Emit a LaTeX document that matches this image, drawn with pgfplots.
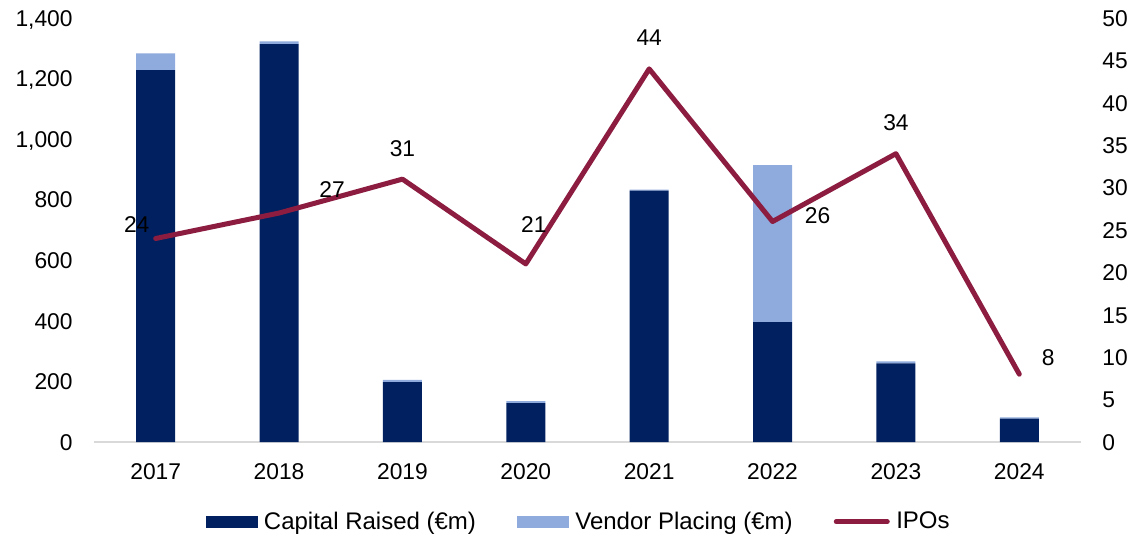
\documentclass[border=0pt]{standalone}
\usepackage{pgfplots}
\pgfplotsset{compat=1.18}
\usepackage{fontspec}
\setmainfont{Liberation Sans}
\definecolor{navy}{HTML}{002060}
\definecolor{lblue}{HTML}{8FAADC}
\definecolor{maroon}{HTML}{8C1D40}
\definecolor{axgray}{HTML}{D9D9D9}
\begin{document}
\fontsize{11.4pt}{13pt}\selectfont
\begin{tikzpicture}
\useasboundingbox (-47pt,-48pt) rectangle (519pt,221pt);
\pgfplotsset{
  base/.style={
    scale only axis, width=493.5pt, height=212pt,
    at={(0,0)}, anchor=south west,
    xmin=-0.5, xmax=7.5,
    font=\fontsize{11.4pt}{13pt}\selectfont,
    /pgf/number format/assume math mode=true,
    /pgf/number format/1000 sep={,},
    major tick length=0pt,
    tick style={draw=none},
  }
}
\begin{axis}[base,
  ybar stacked, bar width=19.5pt,
  ymin=0, ymax=1400, ytick={0,200,...,1400},
  xtick={0,...,7},
  xticklabels={2017,2018,2019,2020,2021,2022,2023,2024},
  axis x line*=bottom, axis y line*=left,
  x axis line style={draw=axgray, line width=0.75pt, -},
  y axis line style={draw=none},
  xticklabel style={anchor=base, inner sep=0pt, yshift=-18.5pt},
  yticklabel style={anchor=base east, inner sep=0pt, xshift=-10.5pt, yshift=-4.1pt},
]
\addplot[fill=navy, draw=none] coordinates {(0,1228) (1,1314) (2,198) (3,128) (4,830) (5,396) (6,260) (7,77)};
\addplot[fill=lblue, draw=none] coordinates {(0,55) (1,9) (2,7) (3,7) (4,3) (5,518) (6,6) (7,4)};
\end{axis}
\begin{axis}[base,
  ymin=0, ymax=50, ytick={0,5,...,50},
  axis y line*=right, axis x line=none,
  y axis line style={draw=none},
  yticklabel style={anchor=base west, inner sep=0pt, xshift=10.5pt, yshift=-4.1pt},
  legend columns=3,
  legend style={draw=none, fill=none, at={(0.49,-0.189)}, anchor=center,
    font=\fontsize{12pt}{14pt}\selectfont,
    /tikz/every odd column/.append style={column sep=3.25pt},
    /tikz/every even column/.append style={column sep=20.5pt},
    nodes={inner sep=0pt}},
]
\addlegendimage{legend image code/.code={\fill[navy] (0pt,-2.6pt) rectangle (25.5pt,2.9pt);}}
\addlegendentry{Capital Raised (€m)}
\addlegendimage{legend image code/.code={\fill[lblue] (0pt,-2.6pt) rectangle (25.5pt,2.9pt);}}
\addlegendentry{Vendor Placing (€m)}
\addplot[maroon, line width=2.5pt, line cap=round, line join=round, mark=none,
  legend image code/.code={\draw[maroon, line width=2.5pt, line cap=round] (1pt,0.2pt) -- (26.5pt,0.2pt);}]
  coordinates {(0,24) (1,27) (2,31) (3,21) (4,44) (5,26) (6,34) (7,8)};
\addlegendentry{IPOs}
\node[xshift=-9.5pt, yshift=6.75pt] at (axis cs:0,24) {24};
\node[xshift=26.5pt, yshift=12pt] at (axis cs:1,27) {27};
\node[yshift=15pt] at (axis cs:2,31) {31};
\node[xshift=4pt, yshift=19.5pt] at (axis cs:3,21) {21};
\node[yshift=15.5pt] at (axis cs:4,44) {44};
\node[xshift=22.5pt, yshift=3pt] at (axis cs:5,26) {26};
\node[yshift=15.5pt] at (axis cs:6,34) {34};
\node[xshift=14.5pt, yshift=8.5pt] at (axis cs:7,8) {8};
\end{axis}
\end{tikzpicture}
\end{document}
